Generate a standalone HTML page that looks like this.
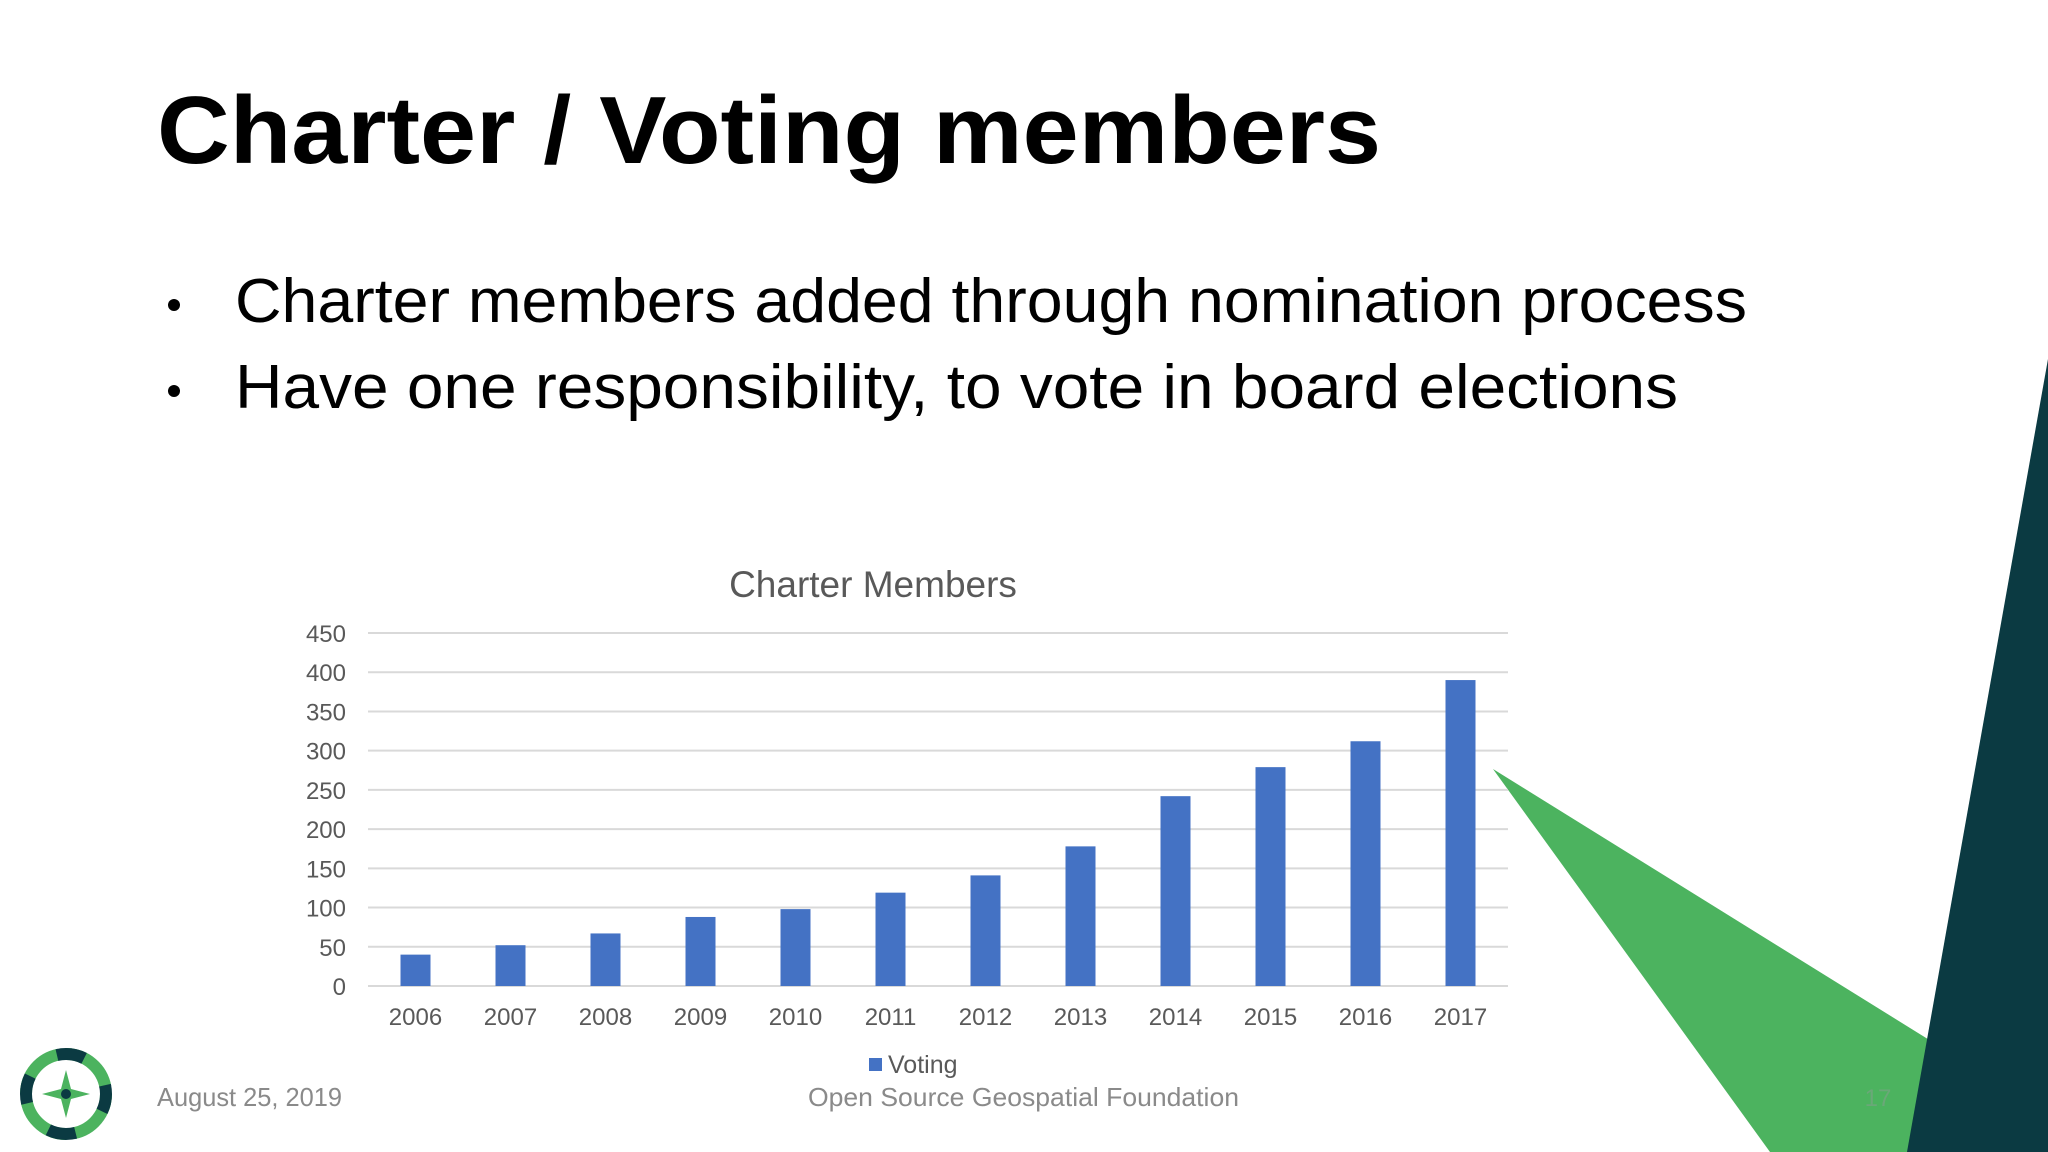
<!DOCTYPE html>
<html><head><meta charset="utf-8"><style>
html,body{margin:0;padding:0;background:#fff;}
svg{display:block;}
text{font-family:"Liberation Sans",sans-serif;}
</style></head><body>
<svg id="slide" width="2048" height="1152" viewBox="0 0 2048 1152" xmlns="http://www.w3.org/2000/svg">
<rect width="2048" height="1152" fill="#fff"/>
<polygon points="1493,769 1960,1059 1960,1152 1770,1152" fill="#4cb35f"/>
<polygon points="2048,359 2048,1152 1907,1152" fill="#0b3a42"/>
<text x="157" y="163" font-size="96" font-weight="bold" fill="#000" textLength="1224" lengthAdjust="spacingAndGlyphs">Charter / Voting members</text>
<g fill="#000">
<circle cx="174" cy="305" r="6"/>
<text x="235" y="322" font-size="62" textLength="1512" lengthAdjust="spacingAndGlyphs">Charter members added through nomination process</text>
<circle cx="174" cy="391" r="6"/>
<text x="235" y="408" font-size="62" textLength="1443" lengthAdjust="spacingAndGlyphs">Have one responsibility, to vote in board elections</text>
</g>
<g id="chart"></g>
<text x="157" y="1106" font-size="26" fill="#8a8a8a" textLength="185" lengthAdjust="spacingAndGlyphs">August 25, 2019</text>
<text x="808" y="1106" font-size="26" fill="#8a8a8a" textLength="431" lengthAdjust="spacingAndGlyphs">Open Source Geospatial Foundation</text>
<text x="1878" y="1106" font-size="24" fill="#6aa878" text-anchor="middle">17</text>
<g transform="translate(66,1094)">
<circle r="40" fill="none" stroke="#4cb35f" stroke-width="12" stroke-dasharray="55 8"/>
<circle r="40" fill="none" stroke="#0b3a42" stroke-width="12" stroke-dasharray="28 35" stroke-dashoffset="10"/>
<polygon points="0,-24 5,-5 24,0 5,5 0,24 -5,5 -24,0 -5,-5" fill="#4cb35f"/>
<circle r="5" fill="#0b3a42"/>
</g>
</svg>
<script>
const categories=["2006","2007","2008","2009","2010","2011","2012","2013","2014","2015","2016","2017"];
const votingValues=[40,52,67,88,98,119,141,178,242,279,312,390];
const yTicks=[0,50,100,150,200,250,300,350,400,450];
const chartTitle="Charter Members";
const seriesName="Voting";
(function(){
const NS="http://www.w3.org/2000/svg";
const g=document.getElementById('chart');
const left=368,right=1508,top=633,bottom=986,yMax=450;
const y=v=>bottom-(v/yMax)*(bottom-top);
const step=(right-left)/categories.length;
const x=i=>left+step*(i+0.5);
function mk(tag,attrs,txt){const e=document.createElementNS(NS,tag);for(const k in attrs)e.setAttribute(k,attrs[k]);if(txt!==undefined)e.textContent=txt;g.appendChild(e);return e;}
let t=mk('text',{x:873,y:597,'font-size':37,fill:'#595959','text-anchor':'middle'},chartTitle);


yTicks.forEach(v=>{
 let l=mk('line',{x1:left,x2:right,y1:y(v),y2:y(v),stroke:'#d9d9d9','stroke-width':2});
 
 
 let tl=mk('text',{x:346,y:y(v)+9,'font-size':24,fill:'#595959','text-anchor':'end'},String(v));
 
 
});
categories.forEach((c,i)=>{
 const bw=30;
 let r=mk('rect',{x:x(i)-bw/2,y:y(votingValues[i]),width:bw,height:bottom-y(votingValues[i]),fill:'#4472c4'});
 
 
 let xl=mk('text',{x:x(i),y:1025,'font-size':24,fill:'#595959','text-anchor':'middle'},c);
 
 
});
let sw=mk('rect',{x:869,y:1058,width:13,height:13,fill:'#4472c4'});


let lt=mk('text',{x:888,y:1073,'font-size':25,fill:'#595959'},seriesName);


})();
</script>
</body></html>
